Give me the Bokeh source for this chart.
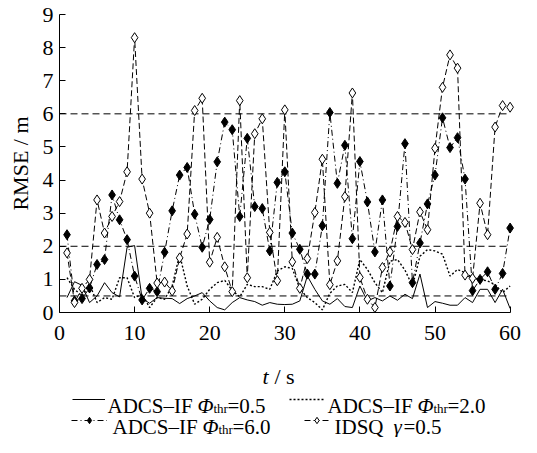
import math
from bokeh.plotting import figure
from bokeh.models import Legend, LegendItem, Label, FixedTicker, Range1d, LinearAxis
from bokeh.embed import file_html
from bokeh.resources import INLINE

# ---------------- data ----------------
t = list(range(1, 61))

phi05 = [0.45, 0.93, 0.82, 0.30, 0.50, 0.90, 0.60, 0.47, 1.97, 2.02,
         0.42, 0.28, 0.45, 0.43, 0.42, 0.27, 0.42, 0.50, 0.60, 0.35,
         0.15, 0.08, 0.30, 0.45, 0.38, 0.33, 0.22, 0.30, 0.25, 0.24,
         0.25, 0.35, 1.10, 0.70, 0.35, 0.25, 0.42, 0.18, 0.15, 0.80,
         0.35, 0.45, 0.35, 0.50, 0.37, 0.55, 0.42, 1.16, 0.15, 0.33,
         0.28, 0.22, 0.22, 0.45, 0.30, 0.70, 0.70, 0.30, 0.70, 0.12]

phi20 = [1.05, 0.70, 0.50, 0.85, 0.30, 0.45, 0.40, 1.05, 1.05, 0.45,
         0.55, 0.15, 0.45, 0.40, 0.80, 1.75, 0.80, 0.25, 0.40, 0.70,
         0.90, 0.97, 0.67, 0.47, 0.85, 0.78, 0.78, 0.70, 1.25, 1.38,
         1.33, 0.72, 0.45, 0.30, 0.08, 0.58, 0.80, 0.85, 0.60, 1.60,
         1.30, 0.90, 0.60, 1.55, 1.60, 1.28, 0.80, 1.70, 1.90, 1.86,
         1.76, 1.10, 1.30, 1.20, 1.05, 1.00, 0.95, 0.85, 0.60, 0.80]

phi60 = [2.35, 0.35, 0.42, 0.74, 1.45, 1.60, 3.55, 2.80, 2.20, 1.10,
         0.38, 0.73, 0.63, 1.82, 3.07, 4.15, 4.38, 2.97, 1.97, 2.81,
         4.55, 5.75, 5.52, 2.90, 5.26, 3.20, 3.14, 1.86, 3.93, 4.25,
         2.40, 1.91, 1.16, 1.16, 2.62, 6.04, 3.90, 5.05, 2.23, 4.56,
         3.34, 1.83, 3.40, 0.80, 2.60, 5.10, 0.90, 2.10, 3.28, 4.15,
         5.88, 4.98, 5.28, 4.03, 0.66, 1.00, 1.23, 0.70, 1.18, 2.55]

idsq = [1.80, 0.30, 0.73, 1.00, 3.40, 2.40, 2.90, 3.35, 4.25, 8.30,
        4.03, 3.00, 0.89, 0.92, 0.65, 1.65, 2.37, 6.10, 6.47, 1.52,
        2.27, 1.38, 0.63, 6.40, 1.05, 5.40, 5.85, 2.42, 0.96, 6.12,
        1.53, 0.73, 1.63, 3.02, 4.63, 0.84, 1.56, 3.50, 6.63, 1.06,
        0.40, 0.15, 1.36, 1.83, 2.90, 2.72, 1.90, 3.04, 2.50, 4.96,
        6.80, 7.78, 7.38, 1.13, 1.03, 3.30, 2.35, 5.60, 6.25, 6.20]

thresholds = [0.5, 2.0, 6.0]
x_ticks = [0, 10, 20, 30, 40, 50, 60]
y_ticks = [0, 1, 2, 3, 4, 5, 6, 7, 8, 9]

FONT = "Liberation Serif"

# page-pixel geometry: x=0 at 67 px, 7.51 px per second;
# y=0 at 320 px, 33.11 px per metre.  The frame covers the whole figure so
# that axes (fixed at 0), legend and titles are all drawn inside it.
X0_PX, X_SCALE = 67.0, 7.51
Y0_PX, Y_SCALE = 320.0, 33.11
W, H = 521, 437          # 8 px page margin on every side of a 537 x 453 window


def tx(px):
    return (px - X0_PX) / X_SCALE


def vy(py):
    return (Y0_PX - py) / Y_SCALE


p = figure(width=W, height=H, output_backend="svg", toolbar_location=None,
           x_range=Range1d(tx(8), tx(8 + W)), y_range=Range1d(vy(8 + H), vy(8)),
           x_axis_location=None, y_axis_location=None,
           min_border=0, min_border_left=0, min_border_right=0,
           min_border_top=0, min_border_bottom=0)
p.xgrid.visible = False
p.ygrid.visible = False
p.outline_line_color = None
p.background_fill_color = "white"
p.border_fill_color = "white"

xaxis = LinearAxis(fixed_location=0, bounds=(x_ticks[0], x_ticks[-1]))
yaxis = LinearAxis(fixed_location=0, bounds=(y_ticks[0], y_ticks[-1]))
p.add_layout(xaxis, "below")
p.add_layout(yaxis, "left")

for ax in (xaxis, yaxis):
    ax.axis_line_color = "black"
    ax.axis_line_width = 1
    ax.major_tick_in = 6
    ax.major_tick_out = 0
    ax.major_tick_line_color = "black"
    ax.minor_tick_line_color = None
    ax.major_label_text_font = FONT
    ax.major_label_text_font_size = "22px"
    ax.major_label_text_color = "black"

xaxis.ticker = FixedTicker(ticks=x_ticks)
yaxis.ticker = FixedTicker(ticks=y_ticks)
xaxis.major_label_standoff = 13
yaxis.major_label_standoff = 6

# threshold reference lines across the time span
n = len(thresholds)
p.segment(x0=[x_ticks[0]] * n, x1=[x_ticks[-1]] * n, y0=thresholds, y1=thresholds,
          line_color="black", line_width=1, line_dash="7 4")

# series
r1 = p.line(t, phi05, line_color="black", line_width=1)
r2 = p.line(t, phi20, line_color="black", line_width=1.4, line_dash="2 2")
r3 = p.line(t, phi60, line_color="black", line_width=1, line_dash="6 3 1 3")
s3 = p.scatter(t, phi60, marker="diamond", size=10, fill_color="black",
               line_color="black", line_width=1)
r4 = p.line(t, idsq, line_color="black", line_width=1, line_dash="6 3")
s4 = p.scatter(t, idsq, marker="diamond", size=10, fill_color="white",
               line_color="black", line_width=1)


# ---------------- legend samples ----------------
def add_leg(renderers, gw, px_left, py_bottom):
    leg = Legend(items=[LegendItem(label=" ", renderers=renderers)],
                 location=(px_left - 8, 8 + H - py_bottom),
                 glyph_width=gw, glyph_height=16,
                 label_standoff=0, padding=0, margin=0, spacing=0,
                 border_line_color=None, background_fill_alpha=0,
                 label_text_font_size="1px", label_width=0, label_height=0)
    p.add_layout(leg, "center")


ROW1, ROW2 = 413, 434     # text baselines of the two legend rows
add_leg([r1], 33, 80, ROW1 + 2)
add_leg([r2], 36, 297, ROW1 + 2)
add_leg([r3, s3], 36, 79, ROW2 + 2)
add_leg([r4, s4], 25, 312, ROW2 + 2)


# ---------------- texts ----------------
def txt(s, px, py, size="21px", style="normal", angle=0.0, align="left"):
    p.add_layout(Label(x=tx(px), y=vy(py), text=s, angle=angle,
                       text_font=FONT, text_font_size=size,
                       text_font_style=style, text_baseline="alphabetic",
                       text_align=align, text_color="black"))


def phi_label(x0, y0, val):
    txt("ADCS\u2013IF", x0, y0)
    txt("\u03a6", x0 + 90, y0, style="italic")
    txt("thr", x0 + 106, y0 + 3, size="13px")
    txt("=" + val, x0 + 120, y0)


phi_label(115, ROW1, "0.5")
phi_label(335, ROW1, "2.0")
phi_label(120, ROW2, "6.0")
txt("IDSQ", 342, ROW2)
txt("\u03b3", 401, ROW2, style="italic")
txt("=0.5", 411, ROW2)

# axis titles
txt("RMSE / m", 28, 171, size="22px", angle=math.pi / 2, align="center")
txt("t", 270, 384, size="22px", style="italic")
txt("/ s", 282, 384, size="22px")

open("out.html", "w").write(file_html(p, INLINE))
